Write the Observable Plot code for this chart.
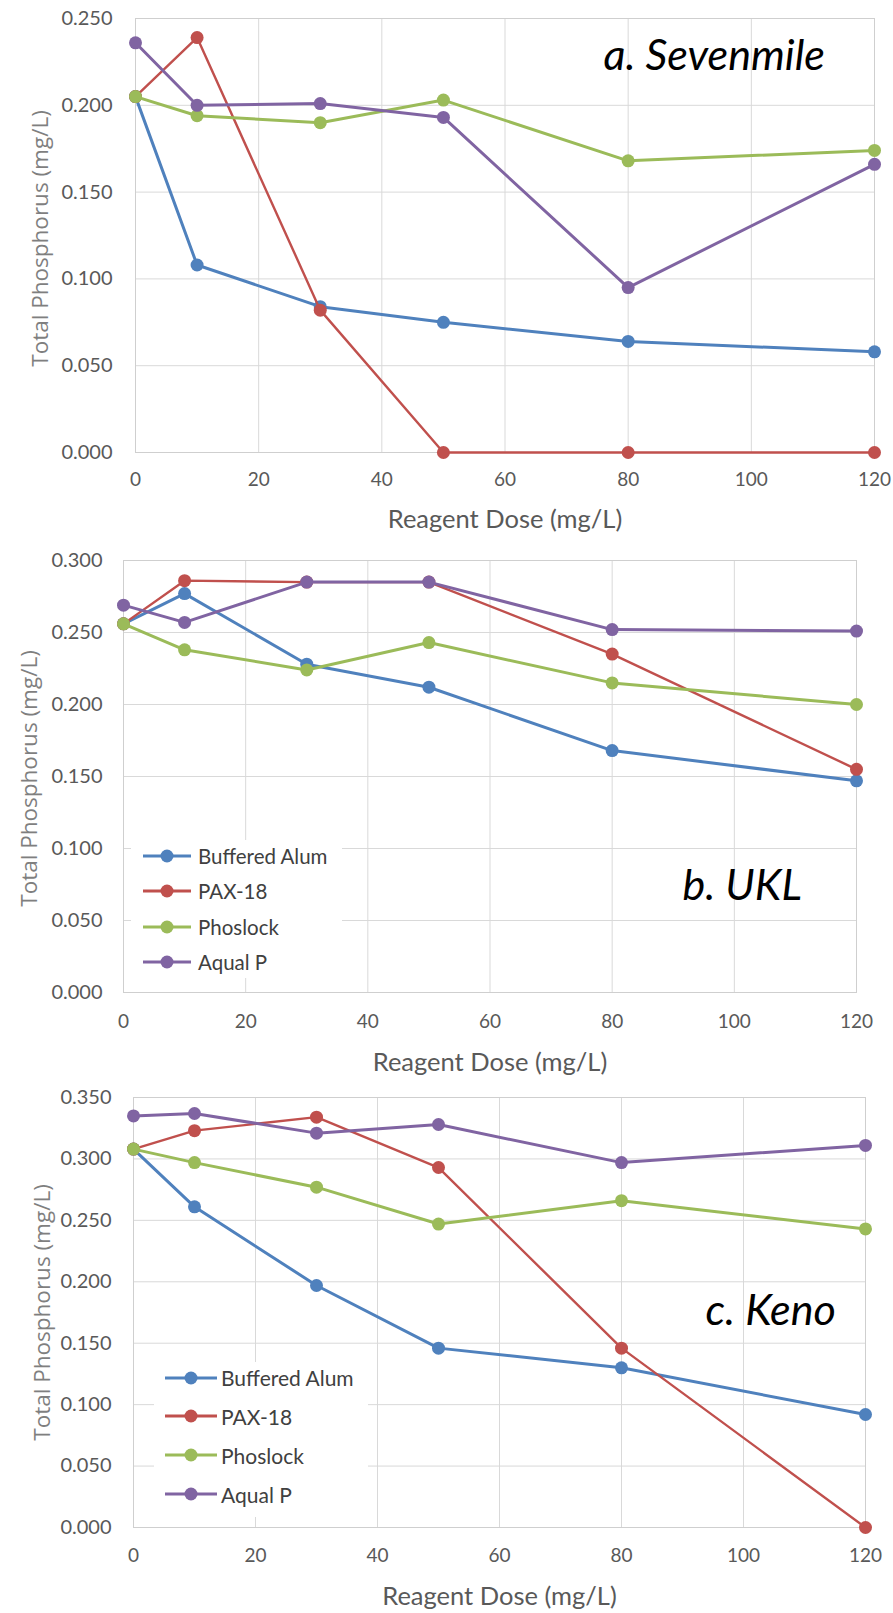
<!DOCTYPE html>
<html>
<head>
<meta charset="utf-8">
<script src="https://cdn.jsdelivr.net/npm/d3@7"></script>
<script src="https://cdn.jsdelivr.net/npm/@observablehq/plot@0.6"></script>
<style>
  html, body { margin: 0; padding: 0; background: #fff; }
  #root { width: 893px; position: relative; }
  .panel { position: relative; width: 893px; }
  .panel svg { display: block; }
  .legend { position: absolute; background: #fff; font-family: Lato, sans-serif; color: #404040; }
  .legend .row { position: absolute; left: 0; display: flex; align-items: center; height: 0; }
  .legend .row span { white-space: nowrap; }
</style>
</head>
<body>
<div id="root"></div>
<script>
// ---------- data ----------
const doses = [0, 10, 30, 50, 80, 120];
const seriesNames = ["Buffered Alum", "PAX-18", "Phoslock", "Aqual P"];
const seriesColors = ["#4F81BD", "#C0504D", "#9BBB59", "#8064A2"];
const xTicks = [0, 20, 40, 60, 80, 100, 120];

// a. Sevenmile
const sevenmileAlum    = [0.205, 0.108, 0.084, 0.075, 0.064, 0.058];
const sevenmilePax     = [0.205, 0.239, 0.082, 0.000, 0.000, 0.000];
const sevenmilePhos    = [0.205, 0.194, 0.190, 0.203, 0.168, 0.174];
const sevenmileAqual   = [0.236, 0.200, 0.201, 0.193, 0.095, 0.166];
const sevenmileYTicks  = [0, 0.05, 0.10, 0.15, 0.20, 0.25];

// b. UKL
const uklAlum  = [0.256, 0.277, 0.228, 0.212, 0.168, 0.147];
const uklPax   = [0.256, 0.286, 0.285, 0.285, 0.235, 0.155];
const uklPhos  = [0.256, 0.238, 0.224, 0.243, 0.215, 0.200];
const uklAqual = [0.269, 0.257, 0.285, 0.285, 0.252, 0.251];
const uklYTicks = [0, 0.05, 0.10, 0.15, 0.20, 0.25, 0.30];

// c. Keno
const kenoAlum  = [0.308, 0.261, 0.197, 0.146, 0.130, 0.092];
const kenoPax   = [0.308, 0.323, 0.334, 0.293, 0.146, 0.000];
const kenoPhos  = [0.308, 0.297, 0.277, 0.247, 0.266, 0.243];
const kenoAqual = [0.335, 0.337, 0.321, 0.328, 0.297, 0.311];
const kenoYTicks = [0, 0.05, 0.10, 0.15, 0.20, 0.25, 0.30, 0.35];

const xTitle = "Reagent Dose (mg/L)";
const yTitle = "Total Phosphorus (mg/L)";

function rowsOf(lists) {
  return lists.flatMap((vals, i) => vals.map((v, j) => ({series: seriesNames[i], dose: doses[j], tp: v})));
}

function panel(cfg) {
  const rows = rowsOf(cfg.lists);
  const marks = [
    Plot.gridX({ticks: xTicks, stroke: "#d9d9d9", strokeOpacity: 1}),
    Plot.gridY({ticks: cfg.yTicks, stroke: "#d9d9d9", strokeOpacity: 1}),
    Plot.frame({stroke: "#cfcfcf"}),
    Plot.axisX({ticks: xTicks, tickSize: 0, tickPadding: cfg.xPad, fontSize: 19, fill: "#595959", label: null}),
    Plot.axisY({ticks: cfg.yTicks, tickSize: 0, tickPadding: cfg.yPad, tickFormat: d3.format(".3f"), fontSize: 20, fill: "#595959", label: null})
  ];
  seriesNames.forEach((s, i) => {
    const d = rows.filter(r => r.series === s);
    marks.push(Plot.line(d, {x: "dose", y: "tp", stroke: seriesColors[i], strokeWidth: i === 1 ? 2.4 : 3}));
    marks.push(Plot.dot(d, {x: "dose", y: "tp", fill: seriesColors[i], r: 6.5}));
  });
  marks.push(Plot.text([cfg.label], {frameAnchor: "top-left", textAnchor: "start", lineAnchor: "middle",
    dx: cfg.labelDx, dy: cfg.labelDy, fontSize: 43, fontStyle: "italic", fill: "#000"}));
  marks.push(Plot.text([xTitle], {frameAnchor: "bottom", lineAnchor: "middle", dy: cfg.titleDy, fontSize: 25.5, fill: "#595959"}));
  marks.push(Plot.text([yTitle], {frameAnchor: "left", textAnchor: "middle", lineAnchor: "middle", rotate: -90,
    dx: cfg.yTitleDx, dy: cfg.yTitleDy, fontSize: 22.5, fill: "#7f7f7f", fontFamily: "Open Sans"}));
  return Plot.plot({
    width: 893, height: cfg.height,
    marginTop: cfg.mt, marginBottom: cfg.mb, marginLeft: cfg.ml, marginRight: cfg.mr,
    x: {domain: [0, 120], label: null},
    y: {domain: [0, cfg.yMax], label: null},
    style: {fontFamily: "Lato, sans-serif", background: "#fff", overflow: "visible"},
    marks
  });
}

function legend(box) {
  const div = document.createElement("div");
  div.className = "legend";
  Object.assign(div.style, {left: box.left + "px", top: box.top + "px", width: box.width + "px", height: box.height + "px"});
  seriesNames.forEach((s, i) => {
    const row = document.createElement("div");
    row.className = "row";
    row.style.top = (box.first + box.step * i) + "px";
    row.style.left = box.lineX + "px";
    const w = box.lineW;
    row.innerHTML = `<svg width="${w}" height="16" style="overflow:visible"><line x1="0" x2="${w}" y1="8" y2="8" stroke="${seriesColors[i]}" stroke-width="3"/><circle cx="${w/2}" cy="8" r="6.5" fill="${seriesColors[i]}"/></svg><span style="margin-left:${box.gap}px;font-size:${box.fs}px">${s}</span>`;
    div.appendChild(row);
  });
  return div;
}

const root = document.getElementById("root");
const configs = [
  {lists: [sevenmileAlum, sevenmilePax, sevenmilePhos, sevenmileAqual], yTicks: sevenmileYTicks, yMax: 0.25,
   height: 540, mt: 18, mb: 88, ml: 135, mr: 19, xPad: 20, yPad: 23,
   label: "a. Sevenmile", labelDx: 468, labelDy: 38, titleDy: 67, yTitleDx: -95, yTitleDy: 3},
  {lists: [uklAlum, uklPax, uklPhos, uklAqual], yTicks: uklYTicks, yMax: 0.30,
   height: 540, mt: 20, mb: 88, ml: 123, mr: 37, xPad: 22, yPad: 21,
   label: "b. UKL", labelDx: 559, labelDy: 326, titleDy: 70, yTitleDx: -94, yTitleDy: 2,
   legend: {left: 131, top: 300, width: 211, height: 138, first: 16, step: 35.3, lineX: 12, lineW: 48, gap: 7, fs: 20.5}},
  {lists: [kenoAlum, kenoPax, kenoPhos, kenoAqual], yTicks: kenoYTicks, yMax: 0.35,
   height: 533, mt: 17, mb: 86, ml: 133, mr: 28, xPad: 21, yPad: 22,
   label: "c. Keno", labelDx: 572, labelDy: 214, titleDy: 69, yTitleDx: -91, yTitleDy: 0,
   legend: {left: 154, top: 282, width: 214, height: 155, first: 15.6, step: 38.8, lineX: 11, lineW: 52, gap: 4, fs: 21}}
];
configs.forEach(cfg => {
  const wrap = document.createElement("div");
  wrap.className = "panel";
  wrap.appendChild(panel(cfg));
  if (cfg.legend) wrap.appendChild(legend(cfg.legend));
  root.appendChild(wrap);
});
</script>
</body>
</html>
